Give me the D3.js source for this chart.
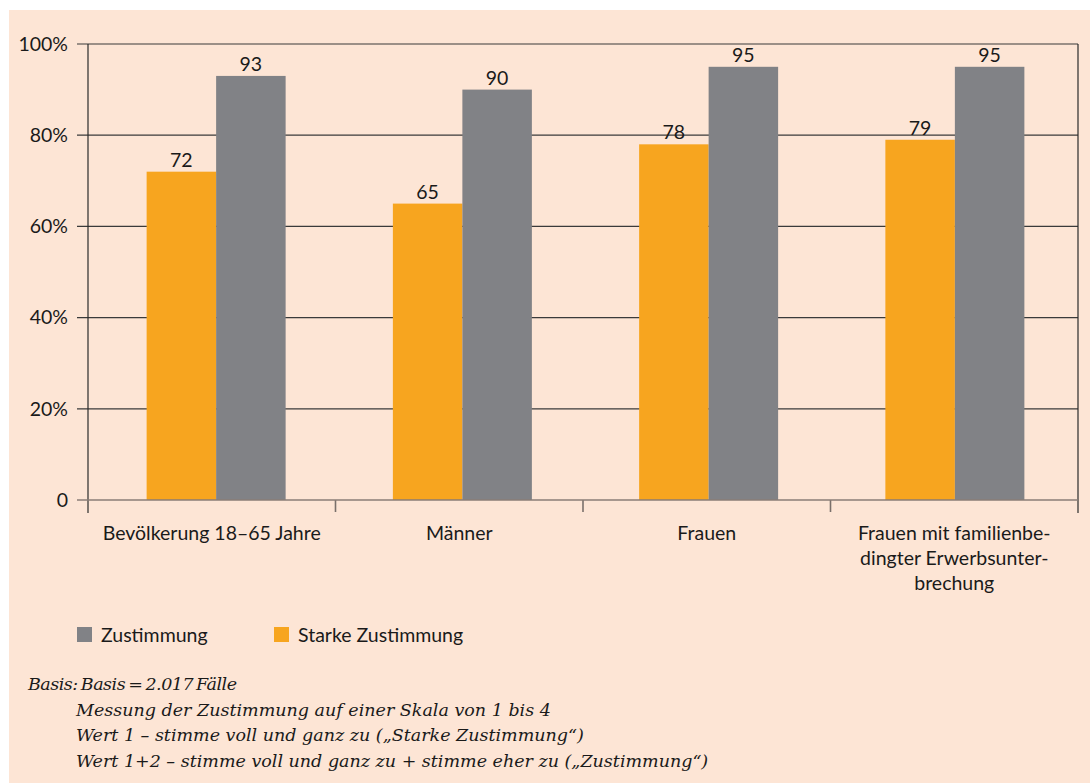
<!DOCTYPE html>
<html><head><meta charset="utf-8">
<script src="https://cdn.jsdelivr.net/npm/d3@7"></script>
<style>
html,body{margin:0;padding:0;background:#fff;}
svg{display:block;}
</style></head>
<body>
<svg id="chart" width="1090" height="783"></svg>
<script>
const categories = [["Bevölkerung 18–65 Jahre"], ["Männer"], ["Frauen"], ["Frauen mit familienbe-", "dingter Erwerbsunter-", "brechung"]];
const starkeZustimmung = [72, 65, 78, 79];
const zustimmung = [93, 90, 95, 95];
const yTicks = [0, 20, 40, 60, 80, 100];
const legendItems = [["Zustimmung", "#818286"], ["Starke Zustimmung", "#f7a51f"]];
const footnotes = ["Basis: Basis = 2.017 Fälle", "Messung der Zustimmung auf einer Skala von 1 bis 4", "Wert 1 – stimme voll und ganz zu („Starke Zustimmung“)", "Wert 1+2 – stimme voll und ganz zu + stimme eher zu („Zustimmung“)"];

const svg = d3.select("#chart");
const font = "Lato, 'Open Sans', sans-serif";
const fs = 19.5;
svg.append("rect").attr("x", 9).attr("y", 10).attr("width", 1081).attr("height", 773).attr("fill", "#fde5d5");

const pLeft = 88, pRight = 1078, pTop = 44, pBottom = 500;
const x = d3.scaleBand().domain(d3.range(categories.length)).range([pLeft, pRight]);
const xBars = d3.scaleBand().domain(d3.range(categories.length)).range([pLeft + 5, pRight]);
const y = d3.scaleLinear().domain([0, 100]).range([pBottom, pTop]);
const barW = 69.5;

// gridlines
const g = svg.append("g");
yTicks.forEach(t => {
  if (t !== 0) g.append("line").attr("x1", pLeft - 11).attr("x2", pRight).attr("y1", y(t)).attr("y2", y(t))
    .attr("stroke", "#3a3a3a").attr("stroke-width", 1.2);
  g.append("text").attr("x", 68).attr("y", y(t)).attr("dy", "0.35em").attr("text-anchor", "end")
    .attr("font-family", font).attr("font-size", fs).attr("fill", "#1a1a1a")
    .text(t === 0 ? "0" : t + "%");
});
// axes verticals
g.append("line").attr("x1", pLeft).attr("x2", pLeft).attr("y1", pTop).attr("y2", pBottom + 13).attr("stroke", "#2a2a2a").attr("stroke-width", 1.2);
g.append("line").attr("x1", pRight).attr("x2", pRight).attr("y1", pTop).attr("y2", pBottom + 13).attr("stroke", "#2a2a2a").attr("stroke-width", 1.2);
d3.range(1, categories.length).forEach(i => {
  g.append("line").attr("x1", x(i)).attr("x2", x(i)).attr("y1", pBottom).attr("y2", pBottom + 12).attr("stroke", "#7a706b").attr("stroke-width", 1.6);
});

// bars
categories.forEach((c, i) => {
  const cx = xBars(i) + xBars.bandwidth() / 2;
  const bars = [[starkeZustimmung[i], "#f7a51f", cx - barW], [zustimmung[i], "#818286", cx]];
  bars.forEach(([v, col, bx]) => {
    svg.append("rect").attr("x", bx).attr("y", y(v)).attr("width", barW).attr("height", pBottom - y(v)).attr("fill", col);
    svg.append("text").attr("x", bx + barW / 2).attr("y", y(v) - 5).attr("text-anchor", "middle")
      .attr("font-family", font).attr("font-size", fs).attr("fill", "#1a1a1a").text(v);
  });
  c.forEach((line, j) => {
    svg.append("text").attr("x", x(i) + x.bandwidth() / 2).attr("y", 540 + j * 25).attr("text-anchor", "middle")
      .attr("font-family", font).attr("font-size", fs).attr("fill", "#1a1a1a").text(line);
  });
});
// zero line on top of bars
svg.append("line").attr("x1", pLeft - 11).attr("x2", pRight).attr("y1", y(0)).attr("y2", y(0))
  .attr("stroke", "#8a7d76").attr("stroke-width", 1.6);

// legend
const legX = [77, 274];
legendItems.forEach(([label, col], i) => {
  svg.append("rect").attr("x", legX[i]).attr("y", 627).attr("width", 15).attr("height", 15).attr("fill", col);
  svg.append("text").attr("x", legX[i] + 24).attr("y", 642).attr("font-family", font).attr("font-size", fs).attr("fill", "#1a1a1a").text(label);
});

// footnotes
footnotes.forEach((t, i) => {
  const tx = svg.append("text").attr("x", i === 0 ? 28 : 76).attr("y", 690 + i * 25.5)
    .attr("font-family", "'DejaVu Serif', serif").attr("font-style", "italic")
    .attr("font-size", 17.5).attr("fill", "#1a1a1a").text(t);
  if (i === 0) tx.attr("word-spacing", -2).attr("letter-spacing", -0.5);
});
</script>
</body></html>
